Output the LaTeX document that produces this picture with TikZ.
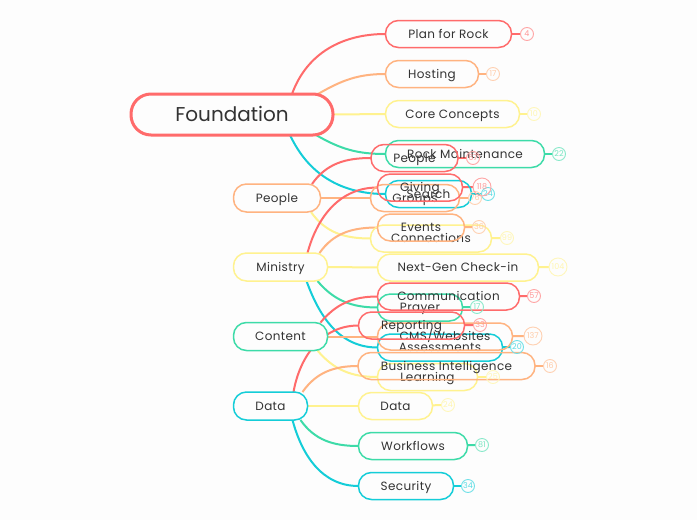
\documentclass[tikz,border=0pt]{standalone}
\usepackage{fontspec}
\setmainfont{Poppins}
\usetikzlibrary{backgrounds}
\definecolor{rd}{HTML}{FF6B6B}
\definecolor{og}{HTML}{FFB380}
\definecolor{yl}{HTML}{FFF28F}
\definecolor{gn}{HTML}{3DDBA8}
\definecolor{tl}{HTML}{14CDD8}
\definecolor{ink}{HTML}{333333}
\definecolor{paper}{HTML}{FDFDFD}
\tikzset{
	box/.style={rectangle, draw=#1, rounded corners=13pt, line width=1.5pt, outer sep=0pt, inner sep=0pt, minimum height=27pt, text=ink, text height=9.5pt, text depth=1pt, font=\fontsize{12}{14}\selectfont\addfontfeature{LetterSpace=3}},
	main/.style={box=#1, fill=paper, minimum height=28pt},
	tally/.style={circle, draw=#1!60, text=#1!70, line width=0.9pt, outer sep=0pt, inner sep=0pt, minimum size=13pt, font=\fontsize{8}{9}\selectfont},
	link/.style={draw=#1, line width=2pt},
}

\begin{document}
\begin{tikzpicture}[x=1pt, y=1pt]
	\useasboundingbox (0,0) rectangle (697,-520);
	\node [box=rd, main=rd, line width=3pt, rounded corners=20pt, minimum width=202pt, minimum height=41pt, text height=14pt, text depth=1pt, font=\fontsize{20}{24}\selectfont] (root) at (232,-114.5) {Foundation};
	\node [box=rd, minimum width=126pt] (plan) at (448.5,-34) {Plan for Rock};
	\node [box=og, minimum width=93pt] (hosting) at (432,-74) {Hosting};
	\node [box=yl, minimum width=134pt] (core) at (452.5,-114) {Core Concepts};
	\node [box=gn, minimum width=159pt] (maint) at (465,-154) {Rock Maintenance};
	\node [box=tl, minimum width=86pt] (search) at (428.5,-194) {Search};
	\node [main=og, minimum width=87pt] (people) at (277,-198) {People};
	\node [box=rd, minimum width=87pt] (peopleb) at (414.5,-158) {People};
	\node [box=og, minimum width=89pt] (groups) at (415,-198) {Groups};
	\node [box=yl, minimum width=121pt] (connect) at (431,-238.5) {Connections};
	\node [main=yl, minimum width=94pt] (ministry) at (280.5,-267) {Ministry};
	\node [box=rd, minimum width=85pt] (giving) at (420,-187.5) {Giving};
	\node [box=og, minimum width=87pt] (events) at (421,-227.5) {Events};
	\node [box=yl, minimum width=161pt] (nextgen) at (458,-267.5) {Next-Gen Check-in};
	\node [box=gn, minimum width=85pt] (prayer) at (420,-307.5) {Prayer};
	\node [box=tl, minimum width=125pt] (assess) at (440,-347.5) {Assessments};
	\node [main=gn, minimum width=94pt] (content) at (280.5,-336.5) {Content};
	\node [box=rd, minimum width=142pt] (comm) at (448.5,-296.5) {Communication};
	\node [box=og, minimum width=135pt] (cms) at (445,-336.5) {CMS/Websites};
	\node [box=yl, minimum width=100pt] (learning) at (427.5,-377) {Learning};
	\node [main=tl, minimum width=74pt] (data) at (270.5,-406) {Data};
	\node [box=rd, minimum width=106pt] (report) at (411.5,-325.5) {Reporting};
	\node [box=og, minimum width=177pt] (bi) at (446.5,-366) {Business Intelligence};
	\node [box=yl, minimum width=74pt] (datab) at (395.5,-406) {Data};
	\node [box=gn, minimum width=109pt] (flows) at (413,-446) {Workflows};
	\node [box=tl, minimum width=95pt] (secure) at (406,-486) {Security};
	\node [tally=rd] (nplan) at (527,-34) {4};
	\node [tally=og] (nhosting) at (493,-74) {17};
	\node [tally=yl] (ncore) at (534,-114) {10};
	\node [tally=gn] (nmaint) at (559,-154) {22};
	\node [tally=tl] (nsearch) at (488,-194) {24};
	\node [tally=rd] (npeopleb) at (473,-158) {67};
	\node [tally=og] (ngroups) at (475,-198) {76};
	\node [tally=yl] (nconnect) at (507,-238) {99};
	\node [tally=rd, minimum size=18pt] (ngiving) at (482,-187) {118};
	\node [tally=og] (nevents) at (479,-227) {36};
	\node [tally=yl, minimum size=18pt] (nnextgen) at (558,-267) {104};
	\node [tally=gn] (nprayer) at (477,-307) {17};
	\node [tally=tl] (nassess) at (517,-347) {20};
	\node [tally=rd] (ncomm) at (534,-296) {57};
	\node [tally=og, minimum size=18pt] (ncms) at (533,-336) {137};
	\node [tally=yl] (nlearning) at (493,-377) {25};
	\node [tally=rd] (nreport) at (480,-325) {33};
	\node [tally=og] (nbi) at (550,-366) {16};
	\node [tally=yl] (ndatab) at (448,-405) {24};
	\node [tally=gn] (nflows) at (482,-445) {81};
	\node [tally=tl] (nsecure) at (468,-486) {34};
	\begin{scope}[on background layer]
		\fill [paper] (0,0) rectangle (697,-520);
		% branches from the centre
		\draw [link=rd] ([xshift=60pt]root.north) to[out=70, in=180] (plan.west);
		\draw [link=og] ([xshift=86pt]root.north) to[out=30, in=180] (hosting.west);
		\draw [link=yl] (root.east)--(core.west);
		\draw [link=gn] ([xshift=84pt]root.south) to[out=-30, in=180] (maint.west);
		\draw [link=tl] ([xshift=58pt]root.south) to[out=-65, in=180] (search.west);
		% people
		\draw [link=rd] ([xshift=35pt]people.north) to[out=55, in=180] (peopleb.west);
		\draw [link=og, line width=2.6pt] (people.east)--(groups.west);
		\draw [link=yl] ([xshift=34pt]people.south) to[out=-55, in=180] (connect.west);
		% ministry
		\draw [link=rd] ([xshift=27pt]ministry.north) to[out=75, in=180] (giving.west);
		\draw [link=og] ([xshift=39pt]ministry.north) to[out=55, in=180] (events.west);
		\draw [link=yl] (ministry.east)--(nextgen.west);
		\draw [link=gn] ([xshift=37pt]ministry.south) to[out=-50, in=180] (prayer.west);
		\draw [link=tl] ([xshift=26pt]ministry.south) to[out=-70, in=180] (assess.west);
		% content
		\draw [link=rd] ([xshift=40pt]content.north) to[out=50, in=180] (comm.west);
		\draw [link=og] (content.east)--(cms.west);
		\draw [link=yl] ([xshift=37pt]content.south) to[out=-50, in=180] (learning.west);
		% data
		\draw [link=rd] ([xshift=23pt]data.north) to[out=80, in=180] (report.west);
		\draw [link=og] ([xshift=32pt]data.north) to[out=55, in=180] (bi.west);
		\draw [link=yl] (data.east)--(datab.west);
		\draw [link=gn] ([xshift=30pt]data.south) to[out=-55, in=180] (flows.west);
		\draw [link=tl] ([xshift=22pt]data.south) to[out=-75, in=180] (secure.west);
		% counts
		\draw [link=rd] (plan)--(nplan);
		\draw [link=og] (hosting)--(nhosting);
		\draw [link=yl] (core)--(ncore);
		\draw [link=gn] (maint)--(nmaint);
		\draw [link=tl] (search)--(nsearch);
		\draw [link=rd] (peopleb)--(npeopleb);
		\draw [link=og] (groups)--(ngroups);
		\draw [link=yl] (connect)--(nconnect);
		\draw [link=rd] (giving)--(ngiving);
		\draw [link=og] (events)--(nevents);
		\draw [link=yl] (nextgen)--(nnextgen);
		\draw [link=gn] (prayer)--(nprayer);
		\draw [link=tl] (assess)--(nassess);
		\draw [link=rd] (comm)--(ncomm);
		\draw [link=og] (cms)--(ncms);
		\draw [link=yl] (learning)--(nlearning);
		\draw [link=rd] (report)--(nreport);
		\draw [link=og] (bi)--(nbi);
		\draw [link=yl] (datab)--(ndatab);
		\draw [link=gn] (flows)--(nflows);
		\draw [link=tl] (secure)--(nsecure);
	\end{scope}
\end{tikzpicture}
\end{document}
